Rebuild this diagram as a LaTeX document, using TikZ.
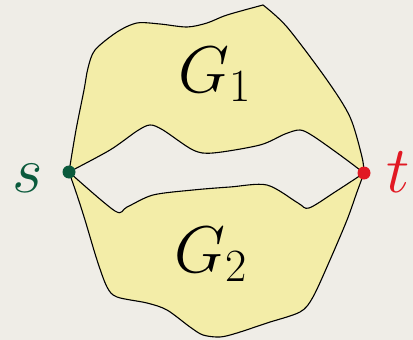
\documentclass[tikz,border=0pt]{standalone}
\usepackage{fix-cm}
\usepackage{xcolor}
\usepackage{tikz}
\usetikzlibrary{positioning}

\newcommand{\bigmath}[1]{\fontsize{66}{66}\selectfont$#1$}

\begin{document}
\begin{tikzpicture}[x=1pt,y=-1pt]
\definecolor{paper}{RGB}{239,237,231}
\definecolor{blob}{RGB}{243,237,168}
\definecolor{sgreen}{RGB}{10,90,60}
\definecolor{tred}{RGB}{225,25,35}
\tikzset{region/.style={fill=blob,draw=black,line width=1.1pt,line join=round}}

% background
\fill[paper] (0,0) rectangle (413,340);
\useasboundingbox (0,0) rectangle (413,340);

\coordinate (s) at (69,172);
\coordinate (t) at (364,173);

% G1
\path[region] plot[smooth,tension=0.5] coordinates {(s) (76,130) (84,90) (88,68) (95,50) (117,32) (137,23) (160,24) (187,27) (207,23) (227,15) (263,5)}
  -- plot[smooth,tension=0.5] coordinates {(263,5) (287,27) (327,80) (350,117) (362,157) (t)}
  -- plot[smooth,tension=0.5] coordinates {(t) (340,155) (313,136) (300,130) (285,134) (260,145) (213,153) (193,150) (163,130) (150,125) (137,131) (110,150) (s)}
  -- cycle;

% G2
\path[region] plot[smooth,tension=0.5] coordinates {(s) (77,195) (85,220) (97,260) (107,287) (117,297) (147,303) (167,310) (190,327) (203,335) (220,337) (237,333) (267,323) (300,312) (313,297) (330,260) (347,220) (357,192) (t)}
  -- plot[smooth,tension=0.5] coordinates {(t) (335,192) (309,208) (298,203) (267,185) (230,187) (193,190) (153,195) (127,207) (115,211) (s)}
  -- cycle;

% terminals
\fill[sgreen] (s) circle (6.5pt);
\fill[tred] (t) circle (6.5pt);

% labels
\node[anchor=base west,inner sep=0] (g1) at (178,92) {\bigmath{G_1}};
\node[anchor=base west,inner sep=0] (g2) at (174,272) {\bigmath{G_2}};
\node[anchor=base west,inner sep=0,text=sgreen] (ls) at (12,192) {\bigmath{s}};
\node[anchor=base west,inner sep=0,text=tred] (lt) at (386,192) {\bigmath{t}};

\end{tikzpicture}
\end{document}
